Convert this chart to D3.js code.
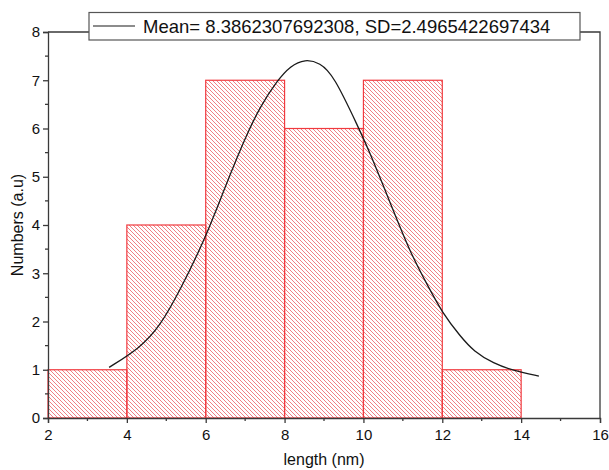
<!DOCTYPE html>
<head>
  <meta charset="utf-8">
  <script src="https://d3js.org/d3.v7.min.js"></script>
  <style>
    body { margin:0; background:#fff; }
    svg { display:block; }
    text { font-family: "Liberation Sans", Arial, sans-serif; fill:#111; }
  </style>
</head>

<body>
  <svg width="609" height="470"></svg>
  <script>
    // histogram bins (length in nm) and counts
    var binStart = [2, 4, 6, 8, 10, 12];
    var binEnd = [4, 6, 8, 10, 12, 14];
    var counts = [1, 4, 7, 6, 7, 1];

    // fitted curve
    var fitX = [3.55, 4.33, 4.84, 5.35, 5.98, 6.53, 7.04, 7.38, 7.80, 8.15, 8.52, 8.90, 9.24, 9.88, 10.17, 10.68, 11.19, 11.64, 12.0, 12.46, 12.8, 13.3, 13.81, 14.45];
    var fitY = [1.05, 1.45, 1.90, 2.65, 3.70, 4.87, 5.88, 6.45, 6.98, 7.30, 7.44, 7.36, 7.11, 6.01, 5.49, 4.46, 3.42, 2.73, 2.18, 1.69, 1.38, 1.13, 0.98, 0.87];

    var xTicks = [2, 4, 6, 8, 10, 12, 14, 16];
    var yTicks = [0, 1, 2, 3, 4, 5, 6, 7, 8];
    var legendLabel = 'Mean= 8.3862307692308, SD=2.4965422697434';

    var margin = {top: 32, right: 9, bottom: 52, left: 48};
    var width = 609, height = 470;

    var svg = d3.select('svg');

    var xScale = d3.scaleLinear().domain([2, 16]).range([margin.left, width - margin.right]);
    var yScale = d3.scaleLinear().domain([0, 8]).range([height - margin.bottom, margin.top]);

    // hatch pattern, lines going down to the right
    var s = 4;
    var defs = svg.append('defs');
    var pat = defs.append('pattern')
      .attr('id', 'hatch')
      .attr('patternUnits', 'userSpaceOnUse')
      .attr('width', s).attr('height', s);
    pat.append('path')
      .attr('d', 'M-1,-1L' + (s + 1) + ',' + (s + 1) +
                 'M' + (s - 1) + ',-1L' + (s + 1) + ',1' +
                 'M-1,' + (s - 1) + 'L1,' + (s + 1))
      .attr('stroke', '#ee7276').attr('stroke-width', 0.9);

    var bins = counts.map((c, i) => ({x0: binStart[i], x1: binEnd[i], n: c}));

    svg.selectAll('rect.bar')
      .data(bins)
      .enter().append('rect')
      .attr('class', 'bar')
      .attr('x', d => xScale(d.x0))
      .attr('y', d => yScale(d.n))
      .attr('width', d => xScale(d.x1) - xScale(d.x0))
      .attr('height', d => yScale(0) - yScale(d.n))
      .attr('fill', 'url(#hatch)')
      .attr('stroke', '#f03a3f')
      .attr('stroke-width', 1.2);

    // fit curve
    var line = d3.line()
      .x(d => xScale(d[0]))
      .y(d => yScale(d[1]))
      .curve(d3.curveBasis);

    svg.append('path')
      .datum(fitX.map((x, i) => [x, fitY[i]]))
      .attr('d', line)
      .attr('fill', 'none')
      .attr('stroke', '#1a1a1a')
      .attr('stroke-width', 1.3);

    var axisColor = '#3a3a3a';

    // frame: top and right lines
    svg.append('path')
      .attr('d', 'M' + xScale(2) + ',' + yScale(8) + 'H' + xScale(16) + 'V' + yScale(0))
      .attr('fill', 'none').attr('stroke', axisColor).attr('stroke-width', 1.3);

    // axes
    var xAxis = d3.axisBottom(xScale).tickValues(xTicks).tickSize(5).tickPadding(4).tickFormat(d3.format('d'));
    var yAxis = d3.axisLeft(yScale).tickValues(yTicks).tickSize(5).tickPadding(3).tickFormat(d3.format('d'));

    var gx = svg.append('g')
      .attr('transform', 'translate(' + [0, yScale(0)] + ')')
      .call(xAxis);
    gx.append('g').selectAll('line')
      .data(d3.range(3, 16, 2))
      .enter().append('line')
      .attr('x1', d => xScale(d)).attr('x2', d => xScale(d))
      .attr('y1', 0).attr('y2', 3);

    var gy = svg.append('g')
      .attr('transform', 'translate(' + [xScale(2), 0] + ')')
      .call(yAxis);
    gy.append('g').selectAll('line')
      .data(d3.range(0.5, 8, 1))
      .enter().append('line')
      .attr('y1', d => yScale(d)).attr('y2', d => yScale(d))
      .attr('x1', 0).attr('x2', -3);

    [gx, gy].forEach(g => {
      g.selectAll('path.domain').attr('stroke', axisColor).attr('stroke-width', 1.3);
      g.selectAll('line').attr('stroke', axisColor).attr('stroke-width', 1.3);
      g.selectAll('text').style('font-size', '15px').attr('fill', '#111');
    });
    gx.selectAll('.tick text').attr('dy', '0.85em');

    // axis titles
    svg.append('text')
      .attr('x', (xScale(2) + xScale(16)) / 2)
      .attr('y', 465)
      .attr('text-anchor', 'middle')
      .style('font-size', '16px')
      .text('length (nm)');

    svg.append('text')
      .attr('transform', 'translate(23,' + ((yScale(0) + yScale(8)) / 2) + ') rotate(-90)')
      .attr('text-anchor', 'middle')
      .style('font-size', '16px')
      .text('Numbers (a.u)');

    // legend
    var lg = svg.append('g');
    lg.append('rect')
      .attr('x', 89).attr('y', 12.5).attr('width', 491).attr('height', 27.5)
      .attr('fill', '#fff').attr('stroke', '#555').attr('stroke-width', 1.2);
    lg.append('line')
      .attr('x1', 93).attr('x2', 135).attr('y1', 26).attr('y2', 26)
      .attr('stroke', '#1a1a1a').attr('stroke-width', 1.2);
    lg.append('text')
      .attr('x', 143).attr('y', 33)
      .style('font-size', '18.5px')
      .text(legendLabel);
  </script>
</body>
